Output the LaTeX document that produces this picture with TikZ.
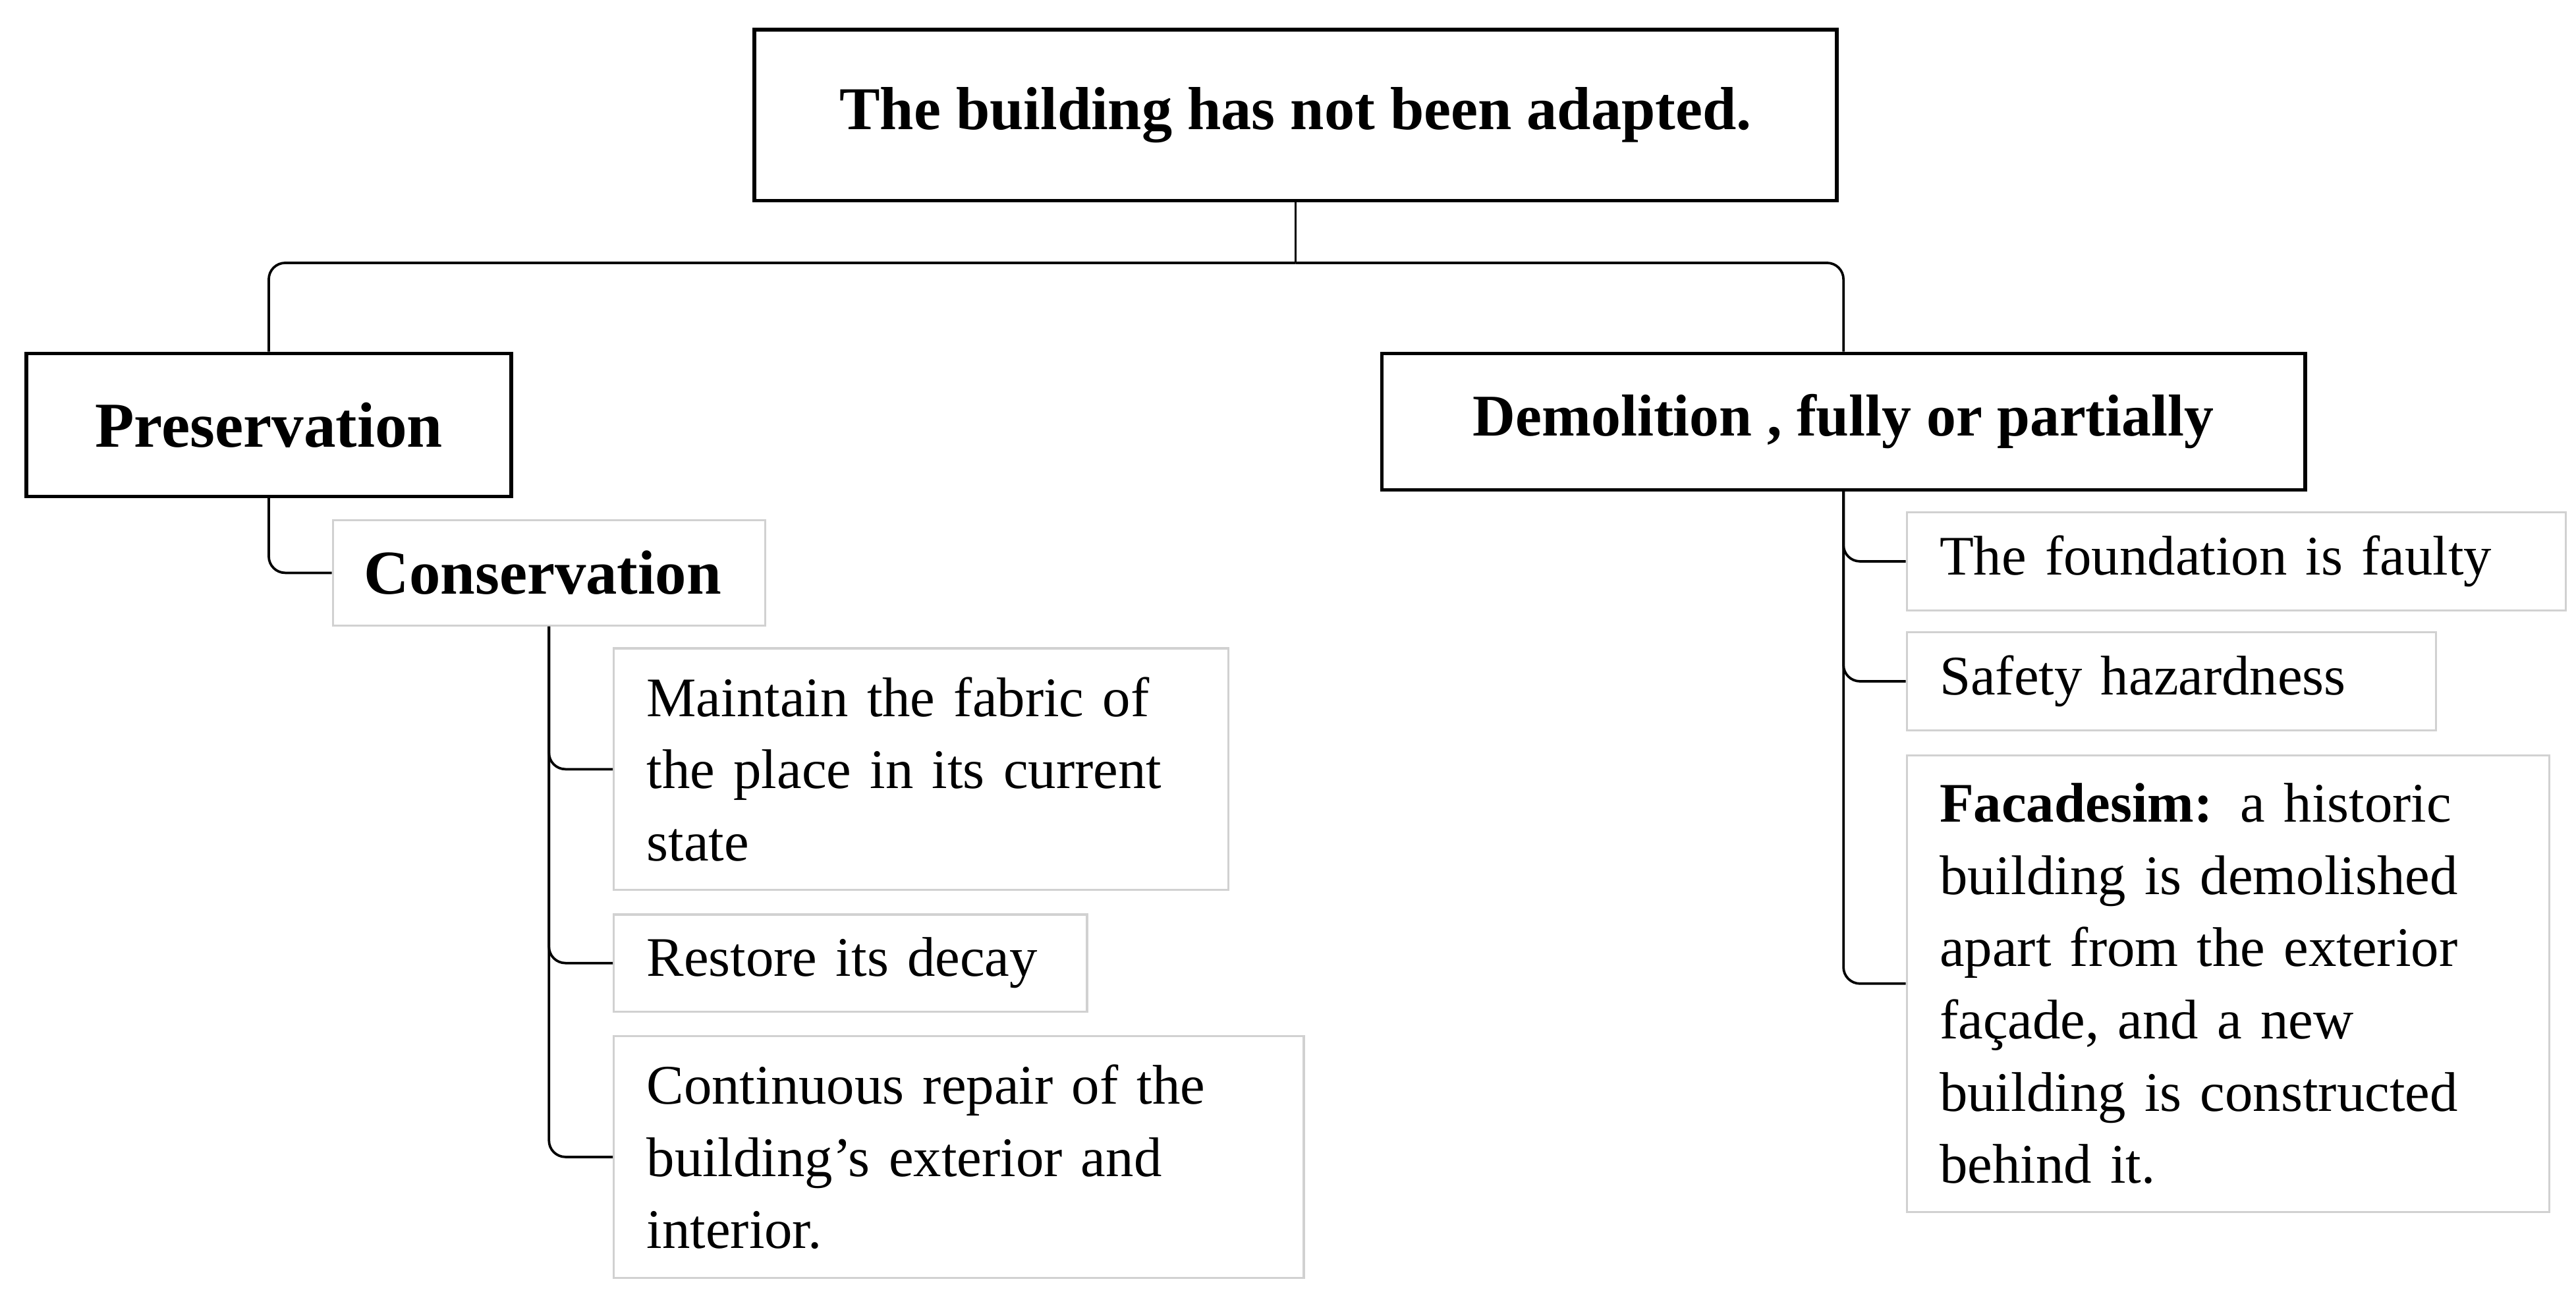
\documentclass[tikz,border=0pt]{standalone}
\usepackage{fontspec}
\setmainfont{Liberation Serif}[Ligatures=ResetAll]
\begin{document}
\begin{tikzpicture}[x=1pt,y=-1pt,
  mainbox/.style={draw=black,line width=2.2pt,anchor=north west,inner xsep=0pt,align=center,font=\fontsize{36}{40}\selectfont\bfseries},
  subbox/.style={draw=black!18,line width=1.3pt,anchor=north west,inner xsep=20pt,align=left,font=\fontsize{34}{44}\selectfont},
  conn/.style={draw=black,line width=1.5pt,rounded corners=10pt}]
\useasboundingbox (0,0) rectangle (1568,791);
\fill[white] (0,0) rectangle (1568,791);
\node[mainbox,minimum width=659pt,minimum height=104pt,font=\fontsize{37}{40}\selectfont\bfseries] (top) at (458,17) {The building has not been adapted.};
\node[mainbox,minimum width=295pt,minimum height=87pt,font=\fontsize{39}{40}\selectfont\bfseries] (pres) at (15,214) {Preservation};
\node[mainbox,minimum width=562pt,minimum height=83pt] (demo) at (840,214) {Demolition , fully or partially};
\node[subbox,minimum height=64pt,text width=225pt,font=\fontsize{38}{40}\selectfont\bfseries,inner xsep=19pt] (cons) at (202,316) {Conservation};
\node[subbox,minimum height=147pt,text width=334pt] (maint) at (373,394) {Maintain the fabric of\\the place in its current\\state};
\node[subbox,minimum height=59pt,text width=248pt] (rest) at (373,556) {Restore its decay};
\node[subbox,minimum height=147pt,text width=380pt] (cont) at (373,630) {Continuous repair of the\\building's exterior and\\interior.};
\node[subbox,minimum height=60pt,text width=361pt] (found) at (1160,311) {The foundation is faulty};
\node[subbox,minimum height=60pt,text width=282pt] (safe) at (1160,384) {Safety hazardness};
\node[subbox,minimum height=278pt,text width=351pt] (fac) at (1160,459) {\textbf{Facadesim:} a historic\\building is demolished\\apart from the exterior\\façade, and a new\\building is constructed\\behind it.};
\coordinate (hub) at (top.south |- 0,160);
\draw[conn] (top.south) -- (hub);
\draw[conn] (hub) -| (pres.north);
\draw[conn] (hub) -| (demo.north);
\draw[conn] (pres.south) |- (cons.west);
\draw[conn] (cons.south) |- (maint.west);
\draw[conn] (cons.south) |- (rest.west);
\draw[conn] (cons.south) |- (cont.west);
\draw[conn] (demo.south) |- (found.west);
\draw[conn] (demo.south) |- (safe.west);
\draw[conn] (demo.south) |- (fac.west);
\end{tikzpicture}
\end{document}
